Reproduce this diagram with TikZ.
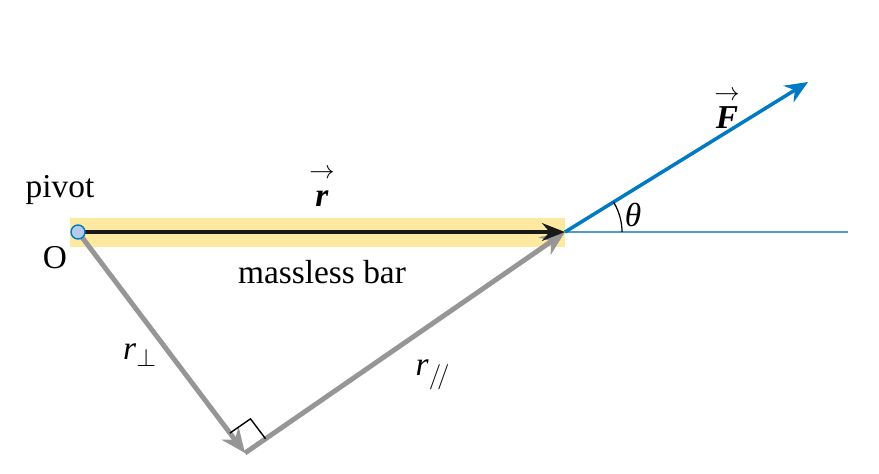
\documentclass[tikz,border=0pt]{standalone}
\usepackage{amsmath,amssymb}
\usepackage{fontspec}
\setmainfont{Liberation Serif}
\usepackage{tikz}
\usetikzlibrary{arrows.meta,calc}
\definecolor{baryellow}{RGB}{253,234,160}
\definecolor{forceblue}{RGB}{0,122,194}
\definecolor{lineblue}{RGB}{80,155,210}
\definecolor{compgray}{RGB}{150,150,150}
\definecolor{pivotfill}{RGB}{180,202,232}

\begin{document}
\begin{tikzpicture}[font=\fontsize{19}{22}\selectfont]
\useasboundingbox (0,0) rectangle (17.58,9.46);
\coordinate (o) at (1.56,4.82);
\coordinate (p) at (11.3,4.82);
\coordinate (b) at (4.9,0.4);
\coordinate (ftip) at (16.16,7.82);
\coordinate (hend) at (16.96,4.82);
\fill[baryellow] (1.4,4.52) rectangle (11.3,5.1);
\draw[lineblue,line width=0.8pt] (p) -- (hend);
\draw[compgray,line width=2.8pt,-{Stealth[length=14pt,width=12pt]}] (o) -- (b);
\draw[compgray,line width=2.8pt,-{Stealth[length=14pt,width=12pt]}] (b) -- (p);
\draw[black!90,line width=2.2pt,-{Stealth[length=13pt,width=10pt]}] (o) -- (p);
\draw[forceblue,line width=2pt,-{Stealth[length=13pt,width=11pt]}] (p) -- (ftip);
\draw[line width=0.7pt] ([shift={(0:1.14)}]p) arc (0:31.7:1.14);
\coordinate (m1) at ($(b)!0.5cm!(o)$);
\coordinate (m2) at ($(b)!0.5cm!(p)$);
\draw[line width=0.8pt] (m1) -- ($(m1)+(m2)-(b)$) -- (m2);
\node[circle,draw=forceblue,fill=pivotfill,line width=0.8pt,inner sep=0pt,minimum size=0.28cm] (piv) at (o) {};
\node (pivlbl) at (1.2,5.66) {pivot};
\node (olbl) at (1.1,4.3) {O};
\node (barlbl) at (6.44,4.02) {massless bar};
\node (rlbl) at (6.44,5.74) {$\overset{\rightarrow}{\vphantom{F}\textbf{\textit{r}}}$};
\node (rperp) at (2.8,2.36) {\textit{r}$_{\perp}$};
\node (rpar) at (8.66,1.96) {\textit{r}$_{/\!/}$};
\node (flbl) at (14.54,7.3) {$\overset{\rightarrow}{\textbf{\textit{F}}}$};
\node (theta) at (12.66,5.16) {\textit{θ}};
\end{tikzpicture}
\end{document}
